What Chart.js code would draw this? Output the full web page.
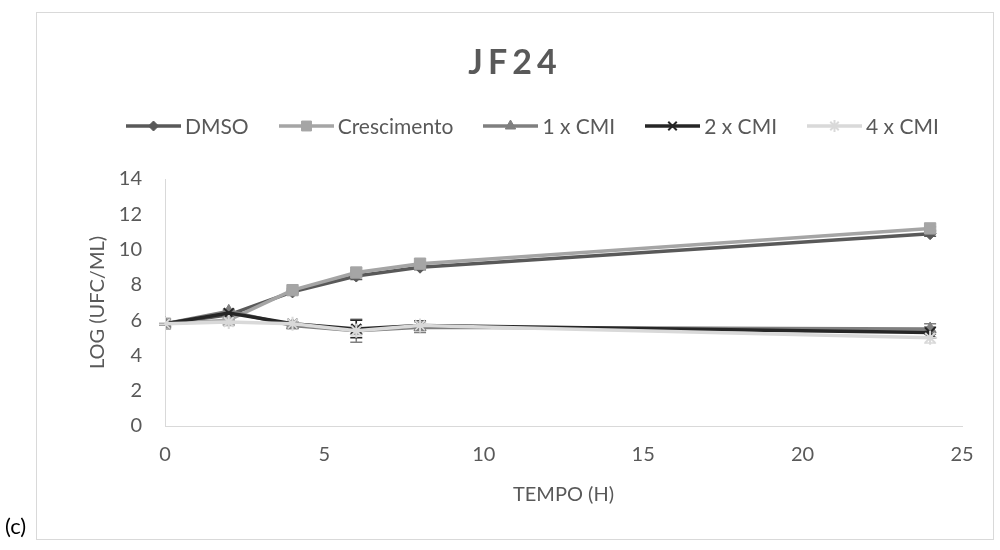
<!DOCTYPE html>
<html>
<head>
<meta charset="utf-8">
<script src="https://cdn.jsdelivr.net/npm/chart.js@4.4.1/dist/chart.umd.min.js"></script>
<style>
  html, body { margin: 0; padding: 0; background: #ffffff; }
  body { width: 1000px; height: 550px; position: relative; overflow: hidden; font-family: Lato, "Open Sans", sans-serif; }
  #frame { position: absolute; left: 36px; top: 12px; width: 958px; height: 528px; border: 1px solid #d9d9d9; box-sizing: border-box; pointer-events: none; }
  #chart { position: absolute; left: 0; top: 0; }
  #title { position: absolute; left: 0; width: 1030px; top: 40px; text-align: center; font: bold 34px Lato, sans-serif; letter-spacing: 5px; color: #595959; }
  #legend { position: absolute; left: 126px; top: 113px; display: flex; align-items: center; }
  .item { display: flex; align-items: center; margin-right: 30px; font-size: 21px; color: #595959; }
  .item canvas { margin-right: 4px; }
  #tag { position: absolute; left: 5px; top: 512px; font-size: 22px; color: #000; }
</style>
</head>
<body>
<canvas id="chart" width="1000" height="550"></canvas>
<div id="frame"></div>
<div id="title">JF24</div>
<div id="legend"></div>
<div id="tag">(c)</div>
<script>
// Sampling times (hours)
const tempo = [0, 2, 4, 6, 8, 24];

// log10 UFC/mL per condition
const dmso        = [5.8, 6.3, 7.6, 8.5, 9.0, 10.9];
const crescimento = [5.8, 6.0, 7.7, 8.7, 9.2, 11.2];
const cmi1        = [5.8, 6.5, 5.7, 5.4, 5.6, 5.5];
const cmi2        = [5.8, 6.4, 5.8, 5.5, 5.7, 5.3];
const cmi4        = [5.8, 5.9, 5.8, 5.4, 5.7, 5.0];

// Standard deviations (±)
const dmsoErr        = [0.05, 0.1, 0.1, 0.2, 0.15, 0.15];
const crescimentoErr = [0.05, 0.1, 0.1, 0.1, 0.1, 0.1];
const cmi1Err        = [0.05, 0.1, 0.1, 0.65, 0.3, 0.3];
const cmi2Err        = [0.05, 0.1, 0.1, 0.5, 0.25, 0.3];
const cmi4Err        = [0.05, 0.1, 0.1, 0.3, 0.2, 0.3];

const seriesNames = ['DMSO', 'Crescimento', '1 x CMI', '2 x CMI', '4 x CMI'];
const yTicks = [0, 2, 4, 6, 8, 10, 12, 14];
const xTicks = [0, 5, 10, 15, 20, 25];

const FONT = 'Lato, "Open Sans", sans-serif';
const TEXT = '#595959';

const styles = [
  { color: '#595959', point: 'rectRot',  radius: 6, bw: 1,   order: 5 },
  { color: '#a5a5a5', point: 'rect',     radius: 8, bw: 1,   order: 4 },
  { color: '#7f7f7f', point: 'triangle', radius: 7, bw: 1,   order: 3 },
  { color: '#262626', point: 'crossRot', radius: 7, bw: 2,   order: 2 },
  { color: '#d9d9d9', point: 'star',     radius: 7, bw: 2,   order: 1 }
];
const values = [dmso, crescimento, cmi1, cmi2, cmi4];
const errors = [dmsoErr, crescimentoErr, cmi1Err, cmi2Err, cmi4Err];

const datasets = values.map((vals, i) => ({
  label: seriesNames[i],
  data: tempo.map((t, j) => ({ x: t, y: vals[j] })),
  errors: errors[i],
  borderColor: styles[i].color,
  backgroundColor: styles[i].color,
  pointBackgroundColor: styles[i].color,
  pointBorderColor: styles[i].color,
  pointStyle: styles[i].point,
  pointRadius: styles[i].radius,
  pointBorderWidth: styles[i].bw,
  borderWidth: 3.5,
  tension: 0,
  order: styles[i].order
}));

// Vertical error bars with caps, drawn beneath the lines
const errorBars = {
  id: 'errorBars',
  beforeDatasetsDraw(chart) {
    const { ctx, scales: { x, y } } = chart;
    ctx.save();
    chart.data.datasets.forEach(ds => {
      ctx.strokeStyle = ds.borderColor;
      ctx.lineWidth = 1.5;
      ds.data.forEach((p, j) => {
        const e = ds.errors[j];
        const px = x.getPixelForValue(p.x);
        const top = y.getPixelForValue(p.y + e);
        const bot = y.getPixelForValue(p.y - e);
        ctx.beginPath();
        ctx.moveTo(px, top); ctx.lineTo(px, bot);
        ctx.moveTo(px - 6, top); ctx.lineTo(px + 6, top);
        ctx.moveTo(px - 6, bot); ctx.lineTo(px + 6, bot);
        ctx.stroke();
      });
    });
    ctx.restore();
  }
};

new Chart(document.getElementById('chart'), {
  type: 'line',
  data: { datasets },
  plugins: [errorBars],
  options: {
    responsive: false,
    animation: false,
    layout: { padding: { left: 75, top: 179, right: 38, bottom: 40 } },
    plugins: { legend: { display: false }, title: { display: false }, tooltip: { enabled: false } },
    scales: {
      x: {
        type: 'linear', min: 0, max: 25,
        afterBuildTicks(s) { s.ticks = xTicks.map(v => ({ value: v })); },
        afterFit(s) { s.height = 84; },
        grid: { display: false, drawTicks: false },
        border: { display: true, color: '#d9d9d9', width: 1 },
        ticks: { padding: 17, color: TEXT, font: { family: FONT, size: 20 } },
        title: { display: true, text: 'TEMPO (H)', color: TEXT, font: { family: FONT, size: 20 }, padding: { top: 0, bottom: 3 } }
      },
      y: {
        min: 0, max: 14,
        afterBuildTicks(s) { s.ticks = yTicks.map(v => ({ value: v })); },
        afterFit(s) { s.width = 90; },
        grid: { display: false, drawTicks: false },
        border: { display: true, color: '#d9d9d9', width: 1 },
        ticks: { padding: 23, color: TEXT, font: { family: FONT, size: 20 } },
        title: { display: true, text: 'LOG (UFC/ML)', color: TEXT, font: { family: FONT, size: 20 }, padding: { top: 11, bottom: 0 } }
      }
    }
  }
});

// Legend entries: line sample with the series marker, followed by the name
const legend = document.getElementById('legend');
datasets.forEach((ds, i) => {
  const item = document.createElement('div');
  item.className = 'item';
  const c = document.createElement('canvas');
  c.width = 55; c.height = 22;
  const g = c.getContext('2d');
  g.strokeStyle = styles[i].color;
  g.lineWidth = 3.5;
  g.beginPath(); g.moveTo(0, 11); g.lineTo(55, 11); g.stroke();
  g.fillStyle = styles[i].color;
  g.lineWidth = styles[i].bw;
  Chart.helpers.drawPoint(g, { pointStyle: styles[i].point, radius: styles[i].radius - 1, rotation: 0, borderWidth: styles[i].bw }, 27.5, 11);
  const span = document.createElement('span');
  span.textContent = ds.label;
  item.appendChild(c);
  item.appendChild(span);
  legend.appendChild(item);
});
</script>
</body>
</html>
